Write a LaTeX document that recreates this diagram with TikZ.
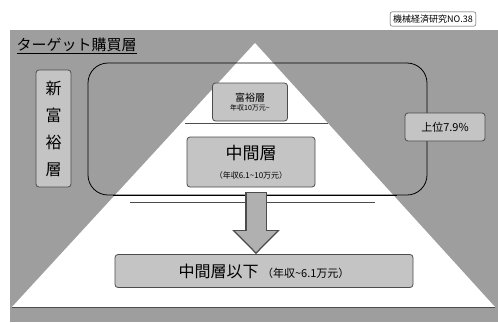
\documentclass[tikz,border=0pt]{standalone}
\usepackage{fontspec}
\setmainfont{Noto Sans CJK JP}
\usetikzlibrary{arrows.meta}
\definecolor{bggray}{rgb}{0.62,0.62,0.62}
\definecolor{boxgray}{rgb}{0.77,0.77,0.77}
\definecolor{linegray}{rgb}{0.3,0.3,0.3}

\tikzset{
	graybox/.style={draw=linegray,fill=boxgray,rounded corners=3pt,thick,inner sep=2pt},
	tagbox/.style={draw=linegray,fill=white,rounded corners=2pt,inner sep=3pt}
}

\begin{document}
\begin{tikzpicture}[x=1pt,y=-1pt]
	\useasboundingbox (0,0) rectangle (498,322);
	% background
	\fill[white] (0,0) rectangle (498,322);
	\fill[bggray] (10,30) rectangle (498,322);

	% pyramid
	\fill[white] (255,43) -- (495,307) -- (12,307) -- cycle;
	\draw[linegray,thick] (12,307.5) -- (495,307.5);
	% layer lines
	\draw[linegray,thick] (185,123) -- (328,123);
	\draw[black,thick] (113,195) -- (397,195);
	\draw[linegray] (130,202) -- (375,202);

	% target frame
	\draw[black,thick,rounded corners=20pt] (88,63) rectangle (427,195);

	% title
	\node[anchor=west,font=\fontsize{15}{15}\selectfont] (title) at (13,46) {\underline{ターゲット購買層}};
	\node[tagbox,font=\fontsize{9}{9}\selectfont] (src) at (433,19) {機械経済研究NO.38};

	% layers
	\node[graybox,minimum width=75pt,minimum height=38pt,align=center,font=\fontsize{10}{11}\selectfont] (rich) at (250,102)
		{富裕層\\[-2pt]{\fontsize{7}{7}\selectfont 年収10万元\textasciitilde}};
	\node[graybox,minimum width=128pt,minimum height=50pt,align=center,font=\fontsize{17}{19}\selectfont] (mid) at (251,162)
		{中間層\\{\fontsize{8}{9}\selectfont （年収6.1\textasciitilde 10万元）}};
	\node[graybox,minimum width=298pt,minimum height=33pt,font=\fontsize{16}{16}\selectfont] (low) at (264,271)
		{中間層以下\ {\fontsize{11}{11}\selectfont （年収\textasciitilde 6.1万元）}};
	\node[graybox,minimum width=35pt,minimum height=117pt,align=center,font=\fontsize{16}{27}\selectfont] (newrich) at (53.5,128.5)
		{新\\富\\裕\\層};
	\node[graybox,minimum width=80pt,minimum height=28pt,font=\fontsize{11}{11}\selectfont] (top) at (445,127)
		{上位7.9\%};

	% arrow
	\coordinate (arrtop) at ([xshift=5pt,yshift=-5pt]mid.south);
	\draw[linegray,line width=22pt,-{Triangle[width=46pt,length=24pt]}]
		(arrtop) -- (arrtop |- low.north);
	\draw[boxgray!70!gray,line width=19pt,-{Triangle[width=40pt,length=21pt]}]
		([yshift=-1pt]arrtop) -- ([yshift=2pt]arrtop |- low.north);
\end{tikzpicture}
\end{document}
